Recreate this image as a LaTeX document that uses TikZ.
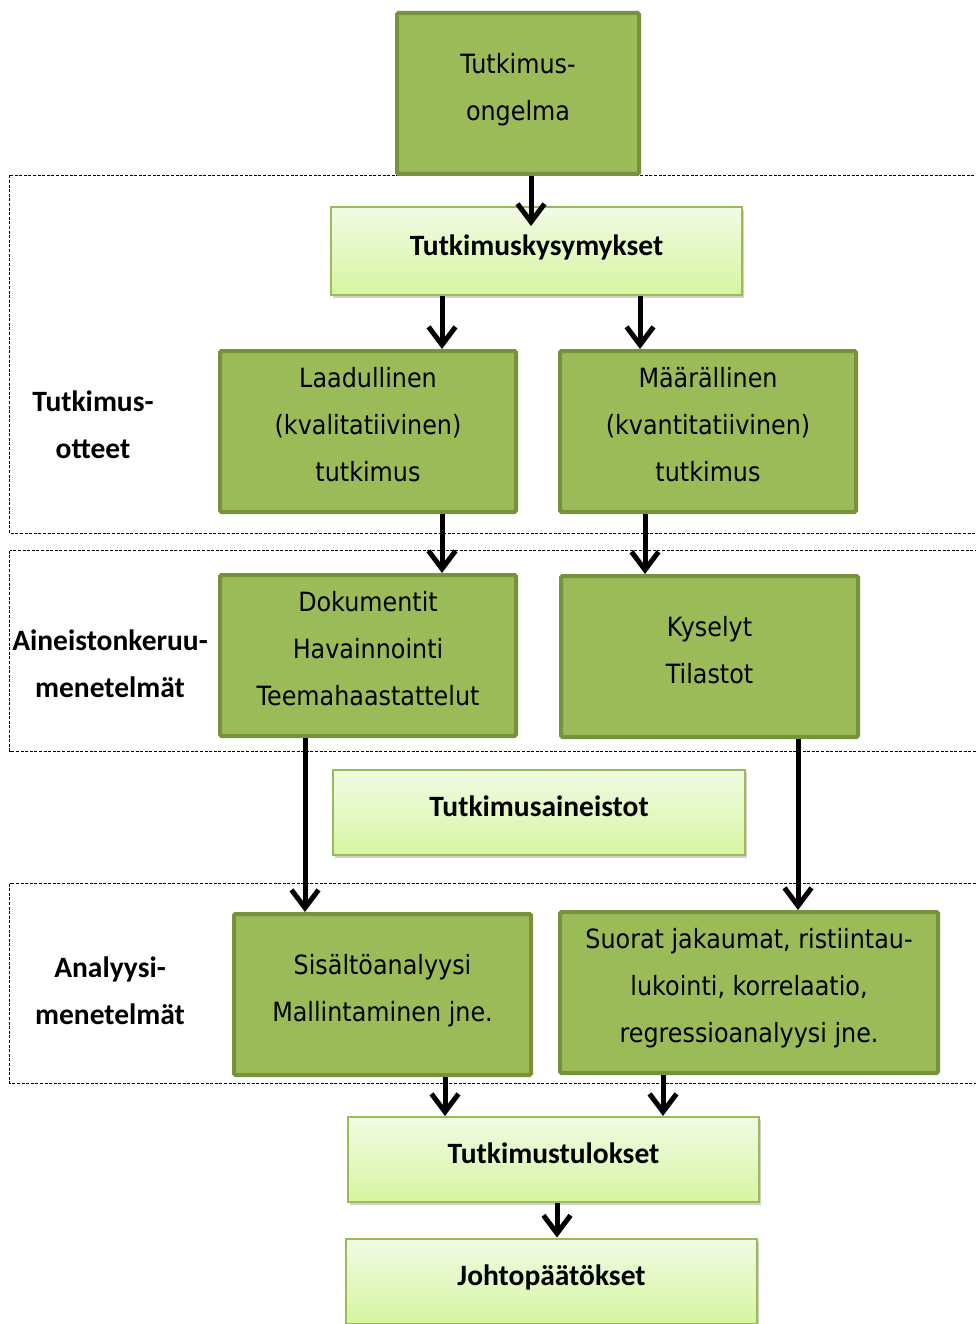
\documentclass[tikz,border=0pt]{standalone}
\usepackage{fontspec}
\usetikzlibrary{arrows.meta,shadows}
\newfontfamily\boxfont[FakeStretch=0.9]{DejaVu Sans}
\newfontfamily\labfont{Carlito}
\definecolor{darkfill}{HTML}{9BBB59}
\definecolor{darkline}{HTML}{76923C}
\definecolor{lighttop}{RGB}{241,251,228}
\definecolor{lightbot}{RGB}{214,245,160}
\tikzset{
  x=1pt, y=-1pt,
  darkbox/.style={draw=darkline, fill=darkfill, line width=4pt, rounded corners=1.5pt,
    minimum width=296pt, minimum height=161pt, align=center, inner sep=0pt, text depth=14pt,
    font=\boxfont\fontsize{26.5}{47}\selectfont},
  lightbox/.style={draw=darkfill, line width=2pt, top color=lighttop, bottom color=lightbot,
    minimum width=411pt, minimum height=88pt, align=center, inner sep=0pt, text depth=12pt,
    drop shadow={shadow xshift=2pt, shadow yshift=-3pt, opacity=0.3, fill=black!60},
    font=\labfont\bfseries\fontsize{29.5}{36}\selectfont},
  grouplab/.style={align=center, inner sep=0pt, font=\labfont\bfseries\fontsize{29.5}{47}\selectfont},
  grp/.style={draw=black, line width=0.8pt, dash pattern=on 3pt off 1.6pt},
  arr/.style={line width=5pt, -{Straight Barb[length=18pt,width=27pt]}},
}
\begin{document}
\begin{tikzpicture}
\useasboundingbox (0,0) rectangle (976,1324);
\clip (0,0) rectangle (976,1324);
% groups
\draw[grp] (9.5,175.5) rectangle (990,533);
\draw[grp] (9.5,550.5) rectangle (990,751);
\draw[grp] (9.5,883.5) rectangle (990,1083);
% group labels
\node[grouplab] (l1) at (93,425) {Tutkimus-\\otteet};
\node[grouplab] (l2) at (110,664) {Aineistonkeruu-\\menetelmät};
\node[grouplab] (l3) at (110,991) {Analyysi-\\menetelmät};
% boxes
\node[darkbox, minimum width=242pt] (top) at (518,93.5) {Tutkimus-\\ongelma};
\node[lightbox] (kys) at (536.5,251) {Tutkimuskysymykset};
\node[darkbox] (laad) at (368,431.5) {Laadullinen\\(kvalitatiivinen)\\tutkimus};
\node[darkbox] (maar) at (708,431.5) {Määrällinen\\(kvantitatiivinen)\\tutkimus};
\node[darkbox] (dok) at (368,655.5) {Dokumentit\\Havainnointi\\Teemahaastattelut};
\node[darkbox, minimum width=297pt] (kyse) at (709.5,656.5) {Kyselyt\\Tilastot};
\node[lightbox, minimum width=412pt, minimum height=85pt] (aine) at (539,812.5) {Tutkimusaineistot};
\node[darkbox, minimum width=297pt] (sis) at (382.5,994.5) {Sisältöanalyysi\\Mallintaminen jne.};
\node[darkbox, minimum width=378pt] (suo) at (749,992.5) {Suorat jakaumat, ristiintau-\\lukointi, korrelaatio,\\regressioanalyysi jne.};
\node[lightbox, minimum height=85pt] (tulos) at (553.5,1159.5) {Tutkimustulokset};
\node[lightbox, minimum height=85pt] (johto) at (551.5,1281) {Johtopäätökset};
% arrow x positions
\coordinate (a1) at (531,0);
\coordinate (a2) at (442,0);
\coordinate (a3) at (640,0);
\coordinate (a4) at (645,0);
\coordinate (a5) at (305,0);
\coordinate (a6) at (798,0);
\coordinate (a7) at (445,0);
\coordinate (a8) at (663,0);
\coordinate (a9) at (557,0);
% arrows
\draw[arr, shorten >=-20pt] (top.south -| a1) -- (kys.north -| a1);
\draw[arr] (kys.south -| a2) -- (laad.north -| a2);
\draw[arr] (kys.south -| a3) -- (maar.north -| a3);
\draw[arr] (laad.south -| a2) -- (dok.north -| a2);
\draw[arr] (maar.south -| a4) -- (kyse.north -| a4);
\draw[arr] (dok.south -| a5) -- (sis.north -| a5);
\draw[arr] (kyse.south -| a6) -- (suo.north -| a6);
\draw[arr] (sis.south -| a7) -- (tulos.north -| a7);
\draw[arr] (suo.south -| a8) -- (tulos.north -| a8);
\draw[arr] (tulos.south -| a9) -- (johto.north -| a9);
\end{tikzpicture}
\end{document}
